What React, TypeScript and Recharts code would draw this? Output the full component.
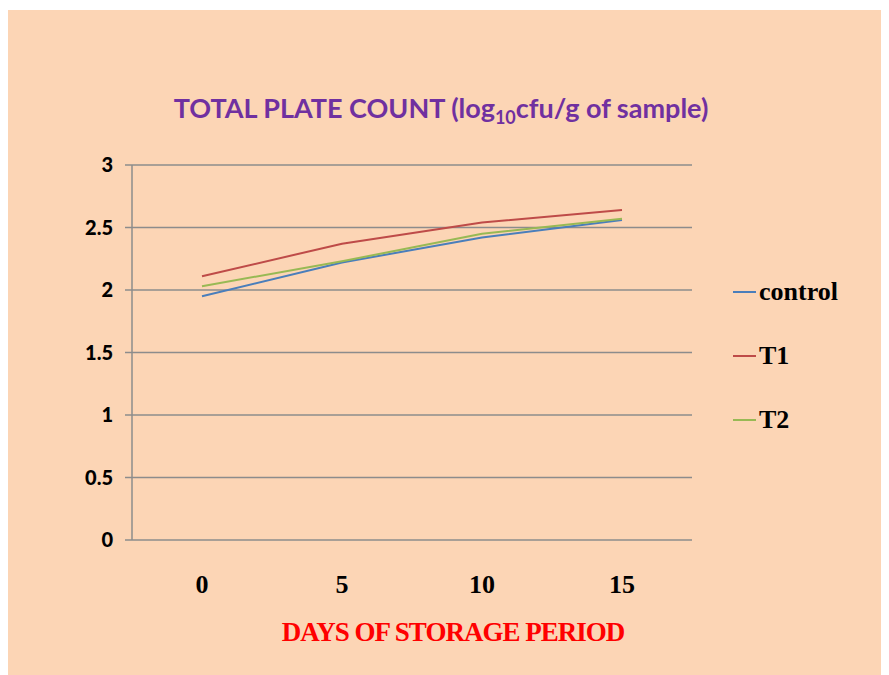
import React from 'react';
import { LineChart, Line, XAxis, YAxis, CartesianGrid } from 'recharts';

const days = [0, 5, 10, 15];
const control = [1.95, 2.22, 2.42, 2.56];
const t1 = [2.11, 2.37, 2.54, 2.64];
const t2 = [2.03, 2.23, 2.45, 2.57];
const yTicks = [0, 0.5, 1, 1.5, 2, 2.5, 3];
// category boundaries where Excel draws its tick marks
const dayEdges = [-2.5, 2.5, 7.5, 12.5, 17.5];

const SERIES = [
  { key: 'control', color: '#4A7EBB' },
  { key: 'T1', color: '#BE4B48' },
  { key: 'T2', color: '#98B954' },
];

const data = days.map((d, i) => ({ day: d, control: control[i], T1: t1[i], T2: t2[i] }));

const GRID = '#8C8C8C';

const NoLabel = () => <g />;

const App: React.FC = () => {
  return (
    <div style={{ position: 'relative', width: 881, height: 665, marginTop: 2, background: '#FCD5B5' }}>
      <div
        style={{
          position: 'absolute',
          top: 81,
          left: 0,
          width: 866,
          textAlign: 'center',
          fontFamily: 'Lato, sans-serif',
          fontWeight: 'bold',
          fontSize: 27,
          color: '#7030A0',
        }}
      >
        TOTAL PLATE COUNT (log<sub style={{ fontSize: 18 }}>10</sub>cfu/g of sample)
      </div>
      <LineChart width={881} height={665} data={data} margin={{ top: 155, right: 197, bottom: 75, left: 64 }}>
        <CartesianGrid vertical={false} stroke={GRID} strokeWidth={1.5} />
        <XAxis
          xAxisId="edges"
          dataKey="day"
          type="number"
          domain={[-2.5, 17.5]}
          ticks={dayEdges}
          height={0}
          stroke={GRID}
          strokeWidth={1.5}
          tickSize={7}
          tick={NoLabel}
        />
        <XAxis
          xAxisId="main"
          dataKey="day"
          type="number"
          domain={[-2.5, 17.5]}
          ticks={days}
          height={60}
          axisLine={false}
          tickLine={false}
          tickSize={0}
          tickMargin={35}
          tick={{ fill: '#000', fontFamily: '"Liberation Serif", serif', fontWeight: 'bold', fontSize: 26 }}
        />
        <YAxis
          width={60}
          domain={[0, 3]}
          ticks={yTicks}
          stroke={GRID}
          strokeWidth={1.5}
          tickSize={7}
          tick={{ fill: '#000', fontFamily: 'Lato, sans-serif', fontWeight: 900, fontSize: 20, dx: -10 }}
        />
        {SERIES.map((s) => (
          <Line
            key={s.key}
            xAxisId="main"
            type="linear"
            dataKey={s.key}
            stroke={s.color}
            strokeWidth={2}
            dot={false}
            isAnimationActive={false}
          />
        ))}
      </LineChart>
      <div style={{ position: 'absolute', left: 725, top: 250 }}>
        {SERIES.map((s) => (
          <div key={s.key} style={{ display: 'flex', alignItems: 'center', height: 64 }}>
            <span style={{ display: 'inline-block', width: 23, height: 2, background: s.color, marginRight: 3 }} />
            <span style={{ fontFamily: '"Liberation Serif", serif', fontWeight: 'bold', fontSize: 26, color: '#000' }}>
              {s.key}
            </span>
          </div>
        ))}
      </div>
      <div
        style={{
          position: 'absolute',
          top: 607,
          left: 0,
          width: 890,
          textAlign: 'center',
          fontFamily: '"Liberation Serif", serif',
          fontWeight: 'bold',
          fontSize: 27,
          letterSpacing: -1,
          color: '#FF0000',
        }}
      >
        DAYS OF STORAGE PERIOD
      </div>
    </div>
  );
};

export default App;
